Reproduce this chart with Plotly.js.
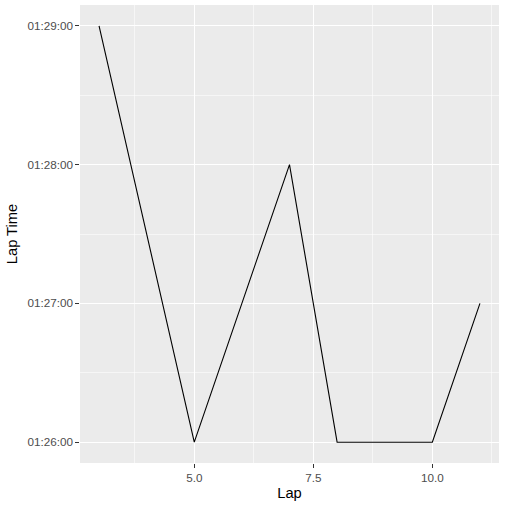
<!DOCTYPE html>
<html>
<head>
<meta charset="utf-8">
<script src="https://cdn.plot.ly/plotly-3.0.1.min.js"></script>
<style>html,body{margin:0;padding:0;background:#fff;}#chart{width:505px;height:507px;}</style>
</head>
<body>
<div id="chart"></div>
<script>
const laps = [3, 5, 7, 8, 10, 11];
const lapTimes = ["01:29:00", "01:26:00", "01:28:00", "01:26:00", "01:26:00", "01:27:00"];
const xTickVals = [5, 7.5, 10];
const xTickText = ["5.0", "7.5", "10.0"];
const xMinorVals = [3.75, 6.25, 8.75, 11.25];
const yTickText = ["01:26:00", "01:27:00", "01:28:00", "01:29:00"];
const yMinorText = ["01:26:30", "01:27:30", "01:28:30"];

function toSec(s) {
  const p = s.split(":").map(Number);
  return p[0] * 3600 + p[1] * 60 + p[2];
}
const ySec = lapTimes.map(toSec);
const yTickVals = yTickText.map(toSec);
const yMinorVals = yMinorText.map(toSec);

const xr = [Math.min(...laps), Math.max(...laps)];
const xPad = (xr[1] - xr[0]) * 0.05;
const yr = [Math.min(...ySec), Math.max(...ySec)];
const yPad = (yr[1] - yr[0]) * 0.05;

const trace = {
  x: laps, y: ySec, type: "scatter", mode: "lines",
  line: {color: "#000000", width: 1.1},
  hoverinfo: "skip"
};

const axisCommon = {
  showgrid: true, gridcolor: "#FFFFFF", gridwidth: 1.1,
  zeroline: false, showline: false,
  ticks: "outside", ticklen: 3.7, tickwidth: 1.1, tickcolor: "#333333",
  tickfont: {family: "Liberation Sans, Arial, sans-serif", size: 11.7, color: "#4D4D4D"},
  fixedrange: true
};

const layout = {
  width: 505, height: 507,
  margin: {l: 80, r: 6, t: 5, b: 44},
  paper_bgcolor: "#FFFFFF", plot_bgcolor: "#EBEBEB",
  showlegend: false,
  xaxis: Object.assign({}, axisCommon, {
    range: [xr[0] - xPad, xr[1] + xPad],
    tickmode: "array", tickvals: xTickVals, ticktext: xTickText,
    minor: {tickmode: "array", tickvals: xMinorVals, showgrid: true, gridcolor: "#FFFFFF", gridwidth: 0.55, ticks: ""},
    title: {text: "Lap", font: {family: "Liberation Sans, Arial, sans-serif", size: 14.7, color: "#000000"}, standoff: 4}
  }),
  yaxis: Object.assign({}, axisCommon, {
    range: [yr[0] - yPad, yr[1] + yPad],
    tickmode: "array", tickvals: yTickVals, ticktext: yTickText,
    minor: {tickmode: "array", tickvals: yMinorVals, showgrid: true, gridcolor: "#FFFFFF", gridwidth: 0.55, ticks: ""},
    title: {text: "Lap Time", font: {family: "Liberation Sans, Arial, sans-serif", size: 14.7, color: "#000000"}, standoff: 6}
  })
};

Plotly.newPlot("chart", [trace], layout, {displayModeBar: false, staticPlot: true});
</script>
</body>
</html>
